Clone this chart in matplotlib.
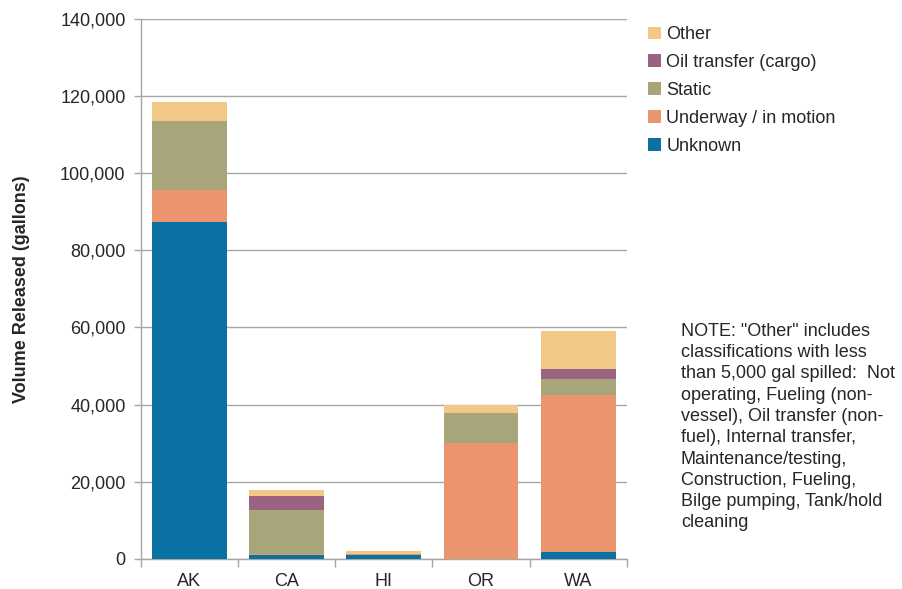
import numpy as np
import matplotlib
matplotlib.use("Agg")
import matplotlib.pyplot as plt
from matplotlib.ticker import FuncFormatter, FixedLocator

plt.rcParams['font.family'] = ['Liberation Sans', 'DejaVu Sans']

# data (gallons)
states = ["AK", "CA", "HI", "OR", "WA"]
unknown = [87400, 900, 1100, 0, 1900]
underway = [8300, 300, 100, 30100, 40500]
static = [17900, 11400, 0, 7800, 4300]
oil_cargo = [0, 3600, 0, 0, 2500]
other = [4800, 1800, 800, 1900, 9800]

series = [("Unknown", unknown, "#0A71A3"),
          ("Underway / in motion", underway, "#EA9570"),
          ("Static", static, "#A8A57A"),
          ("Oil transfer (cargo)", oil_cargo, "#9A6382"),
          ("Other", other, "#F2C887")]

note = ('NOTE: "Other" includes\nclassifications with less\nthan 5,000 gal spilled:  Not\n'
        'operating, Fueling (non-\nvessel), Oil transfer (non-\nfuel), Internal transfer,\n'
        'Maintenance/testing,\nConstruction, Fueling,\nBilge pumping, Tank/hold\ncleaning')

txt = "#262626"
gray = "#A6A6A6"

fig = plt.figure(figsize=(9.03, 5.89), dpi=100)
ax = fig.add_axes([0.156, 0.051, 0.538, 0.917])

x = np.arange(len(states))
bottom = np.zeros(len(states))
handles = []
for name, vals, col in series:
    b = ax.bar(x, vals, width=0.77, bottom=bottom, color=col, label=name, zorder=3)
    handles.append(b)
    bottom += np.array(vals)

ax.set_xlim(-0.5, len(states) - 0.5)
ax.set_ylim(0, 140000)
ax.set_yticks(np.arange(0, 140001, 20000))
ax.yaxis.set_major_formatter(FuncFormatter(lambda v, p: f"{int(v):,}"))
ax.grid(axis="y", color=gray, linewidth=1, zorder=0)

ax.set_xticks(x)
ax.set_xticklabels(states)
ax.xaxis.set_minor_locator(FixedLocator(np.arange(-0.5, len(states), 1)))
ax.tick_params(axis="x", which="major", length=0, pad=10, labelsize=13, labelcolor=txt)
ax.tick_params(axis="x", which="minor", length=6, color=gray, width=1)
ax.tick_params(axis="y", length=5, color=gray, width=1, pad=6, labelsize=13, labelcolor=txt)

for s in ["top", "right"]:
    ax.spines[s].set_visible(False)
for s in ["left", "bottom"]:
    ax.spines[s].set_color(gray)
    ax.spines[s].set_linewidth(1)

ax.set_ylabel("Volume Released (gallons)", fontsize=13, fontweight="bold", color=txt, labelpad=22)

fig.legend(handles[::-1], [s[0] for s in series][::-1], loc="upper left",
           bbox_to_anchor=(0.7, 0.983), frameon=False, fontsize=13,
           handlelength=0.7, handleheight=0.7, handletextpad=0.3, labelspacing=0.6,
           labelcolor=txt)

fig.text(0.754, 0.452, note, fontsize=13, color=txt, va="top", ha="left", linespacing=1.33)

fig.savefig("out.png", dpi=100)
